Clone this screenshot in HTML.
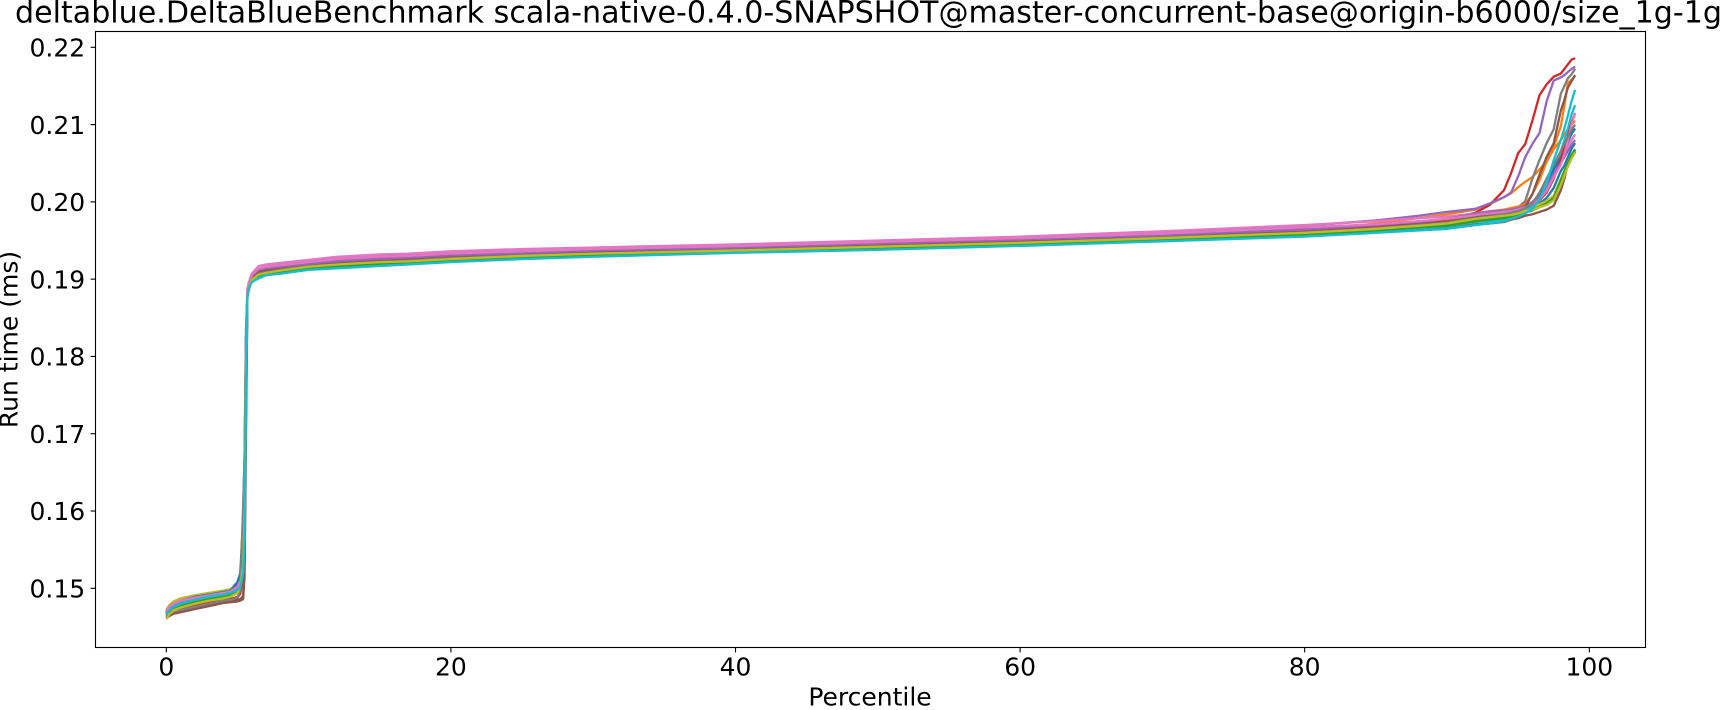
<!DOCTYPE html>
<html lang="en">
<head>
<meta charset="utf-8">
<title>DeltaBlue run time percentiles</title>
<style>
html,body{margin:0;padding:0;background:#fff;width:1724px;height:710px;overflow:hidden}
svg{display:block}
text{font-family:"DejaVu Sans","Liberation Sans",sans-serif;fill:#000}
</style>
</head>
<body>
<svg id="chart" xmlns="http://www.w3.org/2000/svg" width="1724" height="710" viewBox="0 0 1724 710">
  <defs><clipPath id="plot-clip"><rect x="95.5" y="31.5" width="1550" height="616"/></clipPath></defs>
  <rect x="0" y="0" width="1724" height="710" fill="#ffffff"/>
  <g id="series-layer" clip-path="url(#plot-clip)"></g>
  <g id="x-axis"></g>
  <g id="y-axis"></g>
  <rect x="95.5" y="31.5" width="1550" height="616" fill="none" stroke="#000" stroke-width="1.1"/>
  <text x="868.5" y="22.7" font-size="30.1" text-anchor="middle">deltablue.DeltaBlueBenchmark scala-native-0.4.0-SNAPSHOT@master-concurrent-base@origin-b6000/size_1g-1g</text>
  <text x="870" y="705.7" font-size="25" text-anchor="middle">Percentile</text>
  <text transform="translate(17.5 339.5) rotate(-90)" font-size="25" text-anchor="middle">Run time (ms)</text>
</svg>
<script>
const percentiles=[0,0.2,0.5,1,2,3,4,4.5,5,5.2,5.4,5.5,5.6,5.7,5.8,6,6.5,7,8,10,12,15,17,20,25,30,40,50,60,70,80,85,88,90,92,93,94,94.5,95,95.5,96,96.5,97,97.5,98,98.25,98.5,98.75,99];
const run01=[.1469,.1476,.1481,.1485,.1490,.1493,.1496,.1498,.1508,.1520,.1590,.1670,.1835,.1884,.1890,.1899,.1905,.1908,.1911,.1916,.1919,.1922,.1923,.1926,.1930,.1933,.1937,.1942,.1947,.1953,.1960,.1965,.1969,.1972,.1978,.1980,.1982,.1984,.1986,.1990,.1993,.1998,.2005,.2018,.2040,.2047,.2058,.2069,.2076];
const run02=[.1466,.1470,.1473,.1476,.1480,.1483,.1487,.1489,.1495,.1503,.1530,.1600,.1780,.1878,.1886,.1897,.1903,.1905,.1908,.1913,.1916,.1919,.1920,.1923,.1927,.1930,.1935,.1939,.1944,.1952,.1963,.1972,.1979,.1984,.1990,.1997,.2006,.2011,.2019,.2026,.2032,.2042,.2052,.2068,.2080,.2087,.2094,.2100,.2105];
const run03=[.1468,.1473,.1477,.1480,.1485,.1488,.1491,.1493,.1499,.1507,.1540,.1620,.1800,.1880,.1889,.1900,.1906,.1908,.1911,.1915,.1918,.1921,.1923,.1926,.1929,.1932,.1937,.1941,.1946,.1952,.1959,.1964,.1968,.1971,.1976,.1977,.1979,.1981,.1984,.1987,.1990,.1994,.1998,.2004,.2025,.2036,.2048,.2058,.2065];
const run04=[.1465,.1468,.1470,.1473,.1477,.1481,.1485,.1486,.1489,.1495,.1520,.1580,.1760,.1882,.1891,.1903,.1910,.1913,.1916,.1920,.1924,.1927,.1928,.1931,.1934,.1937,.1941,.1946,.1951,.1957,.1965,.1970,.1974,.1977,.1986,.1996,.2015,.2037,.2063,.2075,.2105,.2138,.2152,.2162,.2166,.2172,.2178,.2184,.2186];
const run05=[.1470,.1475,.1479,.1482,.1487,.1490,.1493,.1495,.1500,.1508,.1545,.1630,.1810,.1884,.1893,.1905,.1913,.1916,.1919,.1924,.1928,.1931,.1932,.1935,.1938,.1940,.1944,.1949,.1954,.1961,.1969,.1976,.1982,.1987,.1991,.1998,.2006,.2012,.2033,.2058,.2075,.2089,.2130,.2157,.2161,.2164,.2168,.2172,.2175];
const run06=[.1461,.1464,.1467,.1469,.1473,.1477,.1481,.1482,.1483,.1484,.1486,.1515,.1700,.1876,.1888,.1898,.1904,.1905,.1908,.1913,.1915,.1918,.1920,.1923,.1927,.1930,.1935,.1939,.1944,.1950,.1956,.1961,.1964,.1966,.1971,.1972,.1974,.1977,.1979,.1982,.1984,.1987,.1990,.1995,.2015,.2030,.2050,.2058,.2067];
const run07=[.1471,.1477,.1481,.1485,.1490,.1493,.1495,.1497,.1503,.1511,.1548,.1640,.1820,.1888,.1896,.1907,.1917,.1919,.1921,.1925,.1929,.1932,.1933,.1936,.1939,.1941,.1945,.1950,.1955,.1962,.1970,.1975,.1979,.1981,.1985,.1988,.1990,.1991,.1993,.1996,.2000,.2010,.2028,.2040,.2050,.2058,.2072,.2080,.2087];
const run08=[.1463,.1466,.1469,.1471,.1475,.1479,.1483,.1484,.1487,.1500,.1605,.1668,.1820,.1880,.1889,.1901,.1908,.1911,.1914,.1918,.1922,.1925,.1926,.1929,.1932,.1935,.1940,.1944,.1949,.1956,.1963,.1968,.1973,.1976,.1983,.1986,.1989,.1991,.1993,.2001,.2030,.2054,.2076,.2094,.2140,.2150,.2160,.2165,.2172];
const run09=[.1472,.1478,.1483,.1487,.1491,.1494,.1497,.1499,.1505,.1512,.1550,.1640,.1800,.1880,.1892,.1902,.1907,.1910,.1913,.1918,.1921,.1924,.1925,.1928,.1932,.1934,.1939,.1943,.1948,.1955,.1962,.1967,.1972,.1975,.1981,.1982,.1984,.1985,.1987,.1990,.1993,.1997,.2001,.2008,.2030,.2040,.2050,.2060,.2068];
const run10=[.1467,.1472,.1476,.1479,.1484,.1487,.1490,.1492,.1497,.1505,.1535,.1610,.1790,.1878,.1888,.1898,.1904,.1906,.1909,.1914,.1916,.1919,.1921,.1924,.1928,.1931,.1936,.1940,.1945,.1951,.1957,.1962,.1966,.1968,.1974,.1975,.1978,.1981,.1984,.1988,.1995,.2010,.2030,.2045,.2065,.2080,.2095,.2113,.2125];
const run11=[.1470,.1476,.1480,.1484,.1489,.1492,.1495,.1497,.1506,.1516,.1570,.1650,.1820,.1882,.1890,.1902,.1909,.1911,.1913,.1917,.1920,.1923,.1925,.1928,.1931,.1934,.1938,.1943,.1948,.1954,.1961,.1966,.1971,.1974,.1980,.1982,.1984,.1986,.1988,.1992,.1997,.2007,.2022,.2042,.2058,.2068,.2078,.2088,.2095];
const run12=[.1468,.1472,.1476,.1479,.1484,.1487,.1490,.1492,.1498,.1506,.1538,.1615,.1795,.1881,.1890,.1903,.1911,.1913,.1915,.1919,.1922,.1925,.1927,.1930,.1933,.1936,.1940,.1945,.1950,.1956,.1963,.1969,.1973,.1977,.1984,.1987,.1990,.1992,.1994,.1997,.2010,.2028,.2052,.2071,.2098,.2125,.2154,.2158,.2163];
const run13=[.1467,.1471,.1475,.1478,.1482,.1486,.1489,.1491,.1496,.1504,.1533,.1605,.1785,.1879,.1888,.1899,.1905,.1907,.1910,.1915,.1917,.1920,.1922,.1925,.1929,.1931,.1936,.1940,.1945,.1952,.1958,.1963,.1967,.1969,.1975,.1977,.1979,.1981,.1983,.1986,.1989,.1993,.1998,.2005,.2028,.2040,.2050,.2061,.2068];
const run14=[.1464,.1467,.1469,.1472,.1476,.1480,.1484,.1485,.1488,.1493,.1515,.1570,.1750,.1880,.1890,.1902,.1910,.1912,.1915,.1919,.1922,.1925,.1927,.1930,.1933,.1936,.1940,.1945,.1950,.1956,.1963,.1969,.1973,.1977,.1984,.1986,.1988,.1990,.1991,.1994,.1997,.2002,.2012,.2030,.2055,.2070,.2085,.2102,.2115];
const run15=[.1469,.1474,.1478,.1481,.1486,.1489,.1492,.1494,.1499,.1507,.1543,.1625,.1805,.1882,.1891,.1903,.1911,.1913,.1915,.1920,.1923,.1926,.1927,.1930,.1934,.1936,.1941,.1945,.1950,.1957,.1964,.1970,.1974,.1978,.1985,.1987,.1989,.1990,.1992,.1995,.1999,.2006,.2018,.2036,.2050,.2058,.2066,.2074,.2080];
const run16=[.1462,.1465,.1468,.1470,.1474,.1478,.1482,.1483,.1485,.1486,.1490,.1540,.1720,.1878,.1888,.1901,.1909,.1911,.1913,.1917,.1920,.1923,.1925,.1928,.1931,.1934,.1938,.1943,.1948,.1954,.1961,.1966,.1971,.1974,.1980,.1982,.1985,.1987,.1989,.1994,.2010,.2035,.2058,.2076,.2118,.2132,.2148,.2156,.2164];
const run17=[.1470,.1476,.1480,.1484,.1488,.1491,.1494,.1496,.1502,.1510,.1546,.1635,.1815,.1886,.1894,.1905,.1914,.1916,.1918,.1922,.1926,.1929,.1930,.1933,.1936,.1939,.1943,.1948,.1953,.1959,.1967,.1971,.1975,.1978,.1983,.1985,.1987,.1988,.1990,.1993,.1997,.2003,.2014,.2032,.2048,.2062,.2080,.2100,.2115];
const run18=[.1464,.1467,.1470,.1472,.1476,.1480,.1484,.1485,.1488,.1497,.1600,.1665,.1815,.1879,.1888,.1900,.1907,.1909,.1912,.1917,.1919,.1922,.1924,.1927,.1931,.1933,.1938,.1942,.1947,.1954,.1960,.1966,.1970,.1973,.1979,.1981,.1984,.1986,.1988,.1992,.1998,.2012,.2030,.2048,.2066,.2075,.2084,.2093,.2100];
const run19=[.1460,.1466,.1471,.1475,.1480,.1484,.1487,.1489,.1494,.1502,.1530,.1600,.1780,.1879,.1888,.1899,.1906,.1908,.1911,.1916,.1919,.1922,.1923,.1926,.1930,.1933,.1937,.1942,.1947,.1953,.1960,.1965,.1969,.1972,.1978,.1980,.1982,.1983,.1985,.1988,.1990,.1993,.1996,.2002,.2022,.2034,.2046,.2056,.2064];
const run20=[.1466,.1471,.1476,.1480,.1485,.1489,.1492,.1494,.1498,.1501,.1520,.1565,.1755,.1877,.1888,.1896,.1901,.1905,.1907,.1912,.1914,.1917,.1919,.1922,.1926,.1929,.1934,.1938,.1943,.1949,.1955,.1960,.1963,.1965,.1970,.1972,.1975,.1978,.1981,.1985,.1991,.2003,.2024,.2054,.2080,.2095,.2112,.2130,.2145];
const seriesValues=[run01,run02,run03,run04,run05,run06,run07,run08,run09,run10,run11,run12,run13,run14,run15,run16,run17,run18,run19,run20];
const seriesColors=["#1f77b4","#ff7f0e","#2ca02c","#d62728","#9467bd","#8c564b","#e377c2","#7f7f7f","#bcbd22","#17becf"];
const xTickValues=[0,20,40,60,80,100];
const yTickValues=[0.15,0.16,0.17,0.18,0.19,0.20,0.21,0.22];
const yTickLabels=["0.15","0.16","0.17","0.18","0.19","0.20","0.21","0.22"];

const SVG_NS="http://www.w3.org/2000/svg";
function xScale(p){return 166.3+(p/100)*(1589.3-166.3);}
function yScale(v){return 588.3-((v-0.15)/0.07)*(588.3-47.3);}

const seriesLayer=document.getElementById("series-layer");
seriesValues.forEach(function(vals,i){
  const line=document.createElementNS(SVG_NS,"polyline");
  
  
  line.setAttribute("points",vals.map(function(v,k){return xScale(percentiles[k]).toFixed(2)+","+yScale(v).toFixed(2);}).join(" "));
  line.setAttribute("fill","none");
  line.setAttribute("stroke",seriesColors[i%seriesColors.length]);
  line.setAttribute("stroke-width","2.3");
  line.setAttribute("stroke-linejoin","round");
  seriesLayer.appendChild(line);
});

const xAxis=document.getElementById("x-axis");
xTickValues.forEach(function(t){
  const x=xScale(t);
  const tick=document.createElementNS(SVG_NS,"line");
  
  
  tick.setAttribute("x1",x);tick.setAttribute("x2",x);
  tick.setAttribute("y1",647.5);tick.setAttribute("y2",652.4);
  tick.setAttribute("stroke","#000");tick.setAttribute("stroke-width","1.1");
  xAxis.appendChild(tick);
  const label=document.createElementNS(SVG_NS,"text");
  
  
  label.setAttribute("x",x);label.setAttribute("y",675.3);
  label.setAttribute("font-size","25");label.setAttribute("text-anchor","middle");
  label.textContent=String(t);
  xAxis.appendChild(label);
});

const yAxis=document.getElementById("y-axis");
yTickValues.forEach(function(t,i){
  const y=yScale(t);
  const tick=document.createElementNS(SVG_NS,"line");
  
  
  tick.setAttribute("x1",90.6);tick.setAttribute("x2",95.5);
  tick.setAttribute("y1",y);tick.setAttribute("y2",y);
  tick.setAttribute("stroke","#000");tick.setAttribute("stroke-width","1.1");
  yAxis.appendChild(tick);
  const label=document.createElementNS(SVG_NS,"text");
  
  
  label.setAttribute("x",85.2);label.setAttribute("y",y+9.2);
  label.setAttribute("font-size","25");label.setAttribute("text-anchor","end");
  label.textContent=yTickLabels[i];
  yAxis.appendChild(label);
});
</script>
</body>
</html>
